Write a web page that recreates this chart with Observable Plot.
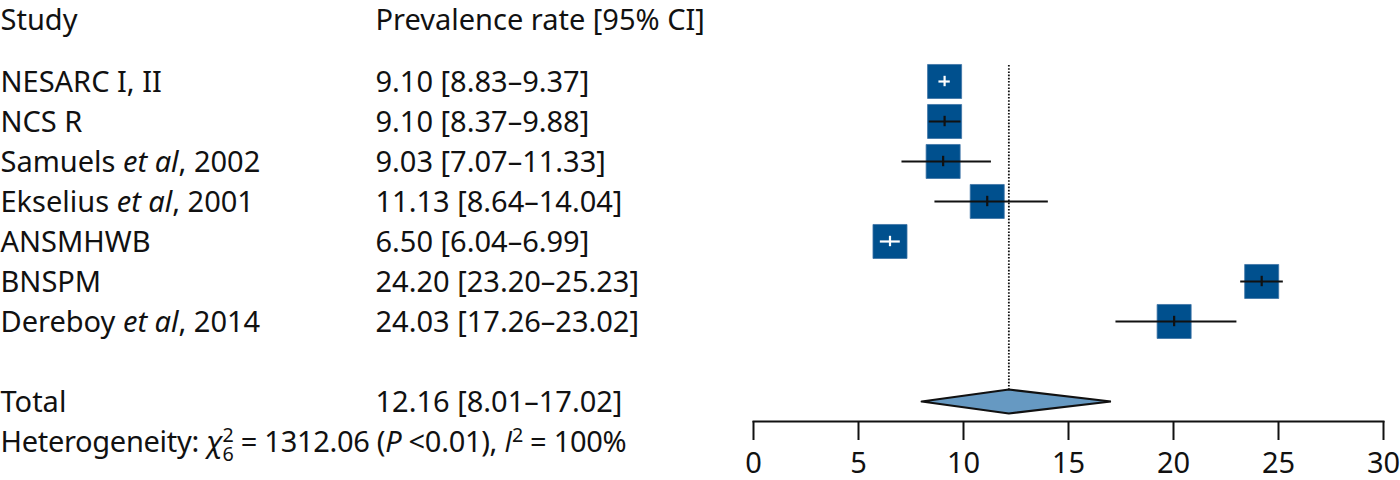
<!DOCTYPE html>
<html>
<head>
<meta charset="utf-8">
<script src="https://cdn.jsdelivr.net/npm/d3@7"></script>
<script src="https://cdn.jsdelivr.net/npm/@observablehq/plot@0.6"></script>
<style>
  html, body { margin: 0; padding: 0; background: #fff; }
  #wrap { position: relative; width: 1400px; height: 480px; }
  #wrap svg { position: absolute; left: 0; top: 0; max-width: none; }
</style>
</head>
<body>
<div id="wrap"></div>
<script>
// ---- data ----
const studies = ["NESARC I, II", "NCS R", "Samuels et al, 2002", "Ekselius et al, 2001", "ANSMHWB", "BNSPM", "Dereboy et al, 2014"];
const estimates = [9.10, 9.10, 9.03, 11.13, 6.50, 24.20, 20.03];
const lower = [8.83, 8.37, 7.07, 8.64, 6.04, 23.20, 17.26];
const upper = [9.37, 9.88, 11.33, 14.04, 6.99, 25.23, 23.02];
const rateLabels = ["9.10 [8.83–9.37]", "9.10 [8.37–9.88]", "9.03 [7.07–11.33]", "11.13 [8.64–14.04]", "6.50 [6.04–6.99]", "24.20 [23.20–25.23]", "24.03 [17.26–23.02]"];
const totalLabel = "Total";
const totalEst = 12.16, totalLo = 8.01, totalHi = 17.02;
const totalRateLabel = "12.16 [8.01–17.02]";
const heterogeneityLabel = "Heterogeneity: χ26 = 1312.06 (P <0.01), I2 = 100%";
const headers = ["Study", "Prevalence rate [95% CI]"];
const xTicks = [0, 5, 10, 15, 20, 25, 30];

// ---- derived tables ----
const rows = studies.map((s, i) => ({study: s, row: i, est: estimates[i], lo: lower[i], hi: upper[i], label: rateLabels[i]}));
const totalRow = rows.length + 1;
const hetRow = totalRow + 1;

const FONT = "Noto Sans, Open Sans, sans-serif";
const FS = 29;
const yScale = {type: "linear", domain: [0, hetRow], range: [81, 441]};

// ---- forest plot (full width) ----
const SQ = "#00508e";
const insideCI = d => (d.hi - d.lo) < 1.2;
const tickHalf = 0.13;
const diamondHalf = 0.3;
const diamond = [
  {x: totalLo, y: totalRow},
  {x: totalEst, y: totalRow - diamondHalf},
  {x: totalHi, y: totalRow},
  {x: totalEst, y: totalRow + diamondHalf},
  {x: totalLo, y: totalRow}
];

const right = Plot.plot({
  width: 1400, height: 480,
  marginLeft: 753, marginRight: 17, marginTop: 0, marginBottom: 59,
  style: {fontFamily: FONT, background: "transparent", color: "#111"},
  x: {domain: [0, 30]},
  y: {...yScale, axis: null},
  marks: [
    Plot.ruleX([totalEst], {y1: -0.4, y2: totalRow - diamondHalf, stroke: "#111", strokeWidth: 1.8, strokeDasharray: "1.6,1.6"}),
    Plot.dot(rows, {x: "est", y: "row", symbol: "square", r: 19.2, fill: SQ, stroke: "#3d74a6", strokeWidth: 0.8}),
    Plot.ruleY(rows, {y: "row", x1: "lo", x2: "hi", stroke: d => insideCI(d) ? "white" : "#111", strokeWidth: 2.2}),
    Plot.ruleX(rows, {x: "est", y1: d => d.row - tickHalf, y2: d => d.row + tickHalf, stroke: d => insideCI(d) ? "white" : "#111", strokeWidth: 2.2}),
    Plot.line(diamond, {x: "x", y: "y", fill: "#6699c2", stroke: "#111", strokeWidth: 2.2, strokeLinejoin: "miter"}),
    Plot.frame({anchor: "bottom", stroke: "#111", strokeWidth: 2}),
    Plot.axisX({ticks: xTicks, tickSize: 19, tickPadding: 12, fontSize: 29, strokeWidth: 2, stroke: "#111", fill: "#111", label: null})
  ]
});

// ---- left: text table (overlay) ----
const leftTexts = [
  ...rows.map(r => ({col: "study", row: r.row, text: r.study})),
  ...rows.map(r => ({col: "rate", row: r.row, text: r.label})),
  {col: "study", row: totalRow, text: totalLabel},
  {col: "rate", row: totalRow, text: totalRateLabel}
];

const left = Plot.plot({
  width: 753, height: 480,
  marginLeft: 0, marginRight: 0, marginTop: 0, marginBottom: 0,
  style: {fontFamily: FONT, background: "transparent", color: "#111"},
  x: {type: "point", domain: ["study", "rate"], range: [0, 375], padding: 0, axis: null},
  y: {...yScale, axis: null},
  marks: [
    Plot.text(headers, {x: (d, i) => i === 0 ? "study" : "rate", text: d => d, frameAnchor: "top", lineAnchor: "middle", dy: 20, textAnchor: "start", fontSize: FS, fill: "#111"}),
    Plot.text(leftTexts, {x: "col", y: "row", text: "text", textAnchor: "start", fontSize: FS, fill: "#111", dy: 1}),
    Plot.text([heterogeneityLabel], {x: () => "study", y: () => hetRow, text: d => d, textAnchor: "start", fontSize: FS, fill: "#111", dy: 1})
  ]
});

// rich text: italics, super/subscripts
d3.select(left).selectAll("text").each(function() {
  const el = d3.select(this);
  const t = this.textContent;
  if (t.includes("et al")) {
    const [a, b] = t.split("et al");
    el.text(null);
    el.append("tspan").text(a);
    el.append("tspan").attr("font-style", "italic").text("et al");
    el.append("tspan").text(b);
  } else if (t === heterogeneityLabel) {
    el.text(null);
    el.attr("letter-spacing", "-0.3");
    el.append("tspan").text("Heterogeneity: ");
    el.append("tspan").attr("font-style", "italic").text("χ");
    el.append("tspan").attr("font-size", "68%").attr("dy", -10).text("2");
    el.append("tspan").attr("font-size", "68%").attr("dx", -11).attr("dy", 19).text("6");
    el.append("tspan").attr("dy", -9).text(" = 1312.06 (");
    el.append("tspan").attr("font-style", "italic").text("P");
    el.append("tspan").text(" <0.01), ");
    el.append("tspan").attr("font-style", "italic").attr("font-family", "Open Sans, Noto Sans, sans-serif").text("I");
    el.append("tspan").attr("font-size", "68%").attr("dy", -10).text("2");
    el.append("tspan").attr("dy", 10).text(" = 100%");
  }
});

const wrap = document.getElementById("wrap");
wrap.appendChild(right);
wrap.appendChild(left);
</script>
</body>
</html>
